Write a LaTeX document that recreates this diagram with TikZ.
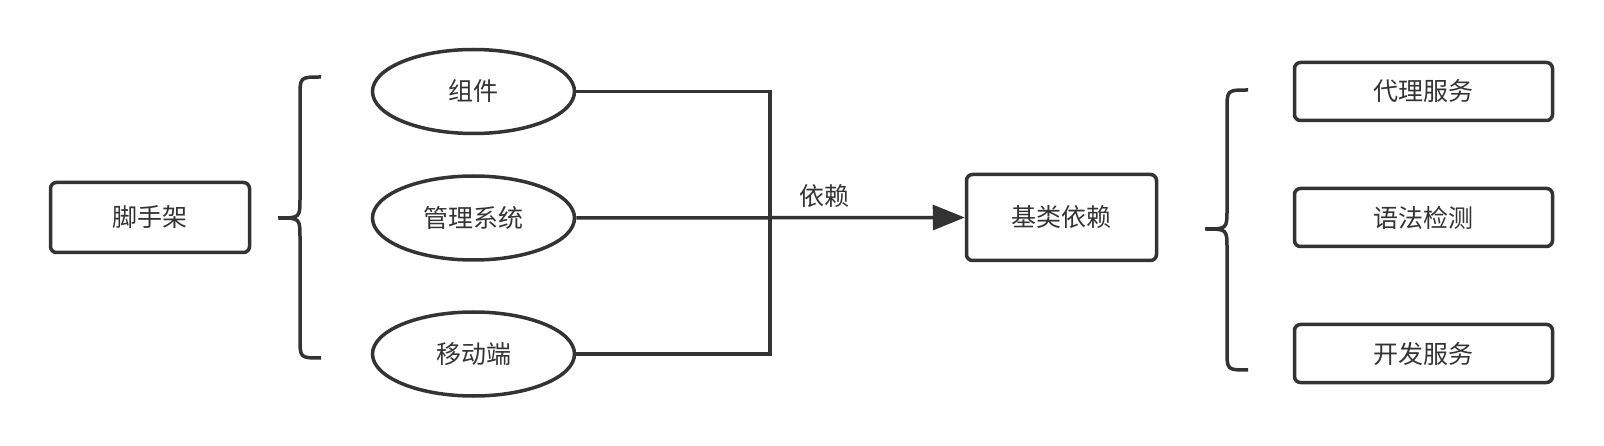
\documentclass[tikz,border=0pt]{standalone}
\usepackage{fontspec}
\setmainfont{Noto Sans CJK SC}
\usetikzlibrary{arrows.meta,shapes.geometric}
\definecolor{ink}{HTML}{333333}
\tikzset{
    every node/.style={font=\fontsize{25}{30}\selectfont, text=ink},
    line/.style={draw=ink, line width=3.5pt},
    box/.style={line, rounded corners=6pt, inner sep=0pt},
    oval/.style={line, ellipse, inner sep=0pt, minimum width=202pt, minimum height=84pt},
}
\begin{document}
\begin{tikzpicture}[x=1pt,y=-1pt]
    \useasboundingbox (0,0) rectangle (1604,446);

    % Left part: scaffold and its three targets
    \node[box, minimum width=199pt, minimum height=70pt] (scaffold) at (150,217.5) {脚手架};
    \node[oval] (comp) at (473.5,91.5) {组件};
    \node[oval] (admin) at (473.5,218) {管理系统};
    \node[oval] (mobile) at (473.5,354) {移动端};

    % Base dependency box
    \node[box, minimum width=190pt, minimum height=86pt] (base) at (1061.5,217.5) {基类依赖};

    % Right part: services
    \node[box, minimum width=258pt, minimum height=58pt] (proxy) at (1423.5,91.5) {代理服务};
    \node[box, minimum width=258pt, minimum height=58pt] (lint) at (1423.5,217.5) {语法检测};
    \node[box, minimum width=258pt, minimum height=58pt] (dev) at (1423.5,353.5) {开发服务};

    % Coordinates for the braces
    \coordinate (LT) at (321,77);
    \coordinate (LM) at (278,218);
    \coordinate (LB) at (321,358);
    \coordinate (RT) at (1248,90);
    \coordinate (RM) at (1205,229);
    \coordinate (RB) at (1248,370);

    % Draw the two curly braces
    \draw[line] (LT) .. controls (300,77) .. (300,97) -- (300,198)
        .. controls (300,218) .. (LM) .. controls (300,218) .. (300,238)
        -- (300,338) .. controls (300,358) .. (LB);
    \draw[line] (RT) .. controls (1227,90) .. (1227,110) -- (1227,209)
        .. controls (1227,229) .. (RM) .. controls (1227,229) .. (1227,249)
        -- (1227,350) .. controls (1227,370) .. (RB);

    % Connectors
    \coordinate (bus) at (770,218);
    \draw[line] (comp.east) -| (bus) |- (mobile.east);
    \draw[line, -{Triangle[length=32pt, width=25pt]}] (admin.east) -- (base.west)
        node[pos=0.64, above, inner sep=8pt] (dep) {依赖};
\end{tikzpicture}
\end{document}
